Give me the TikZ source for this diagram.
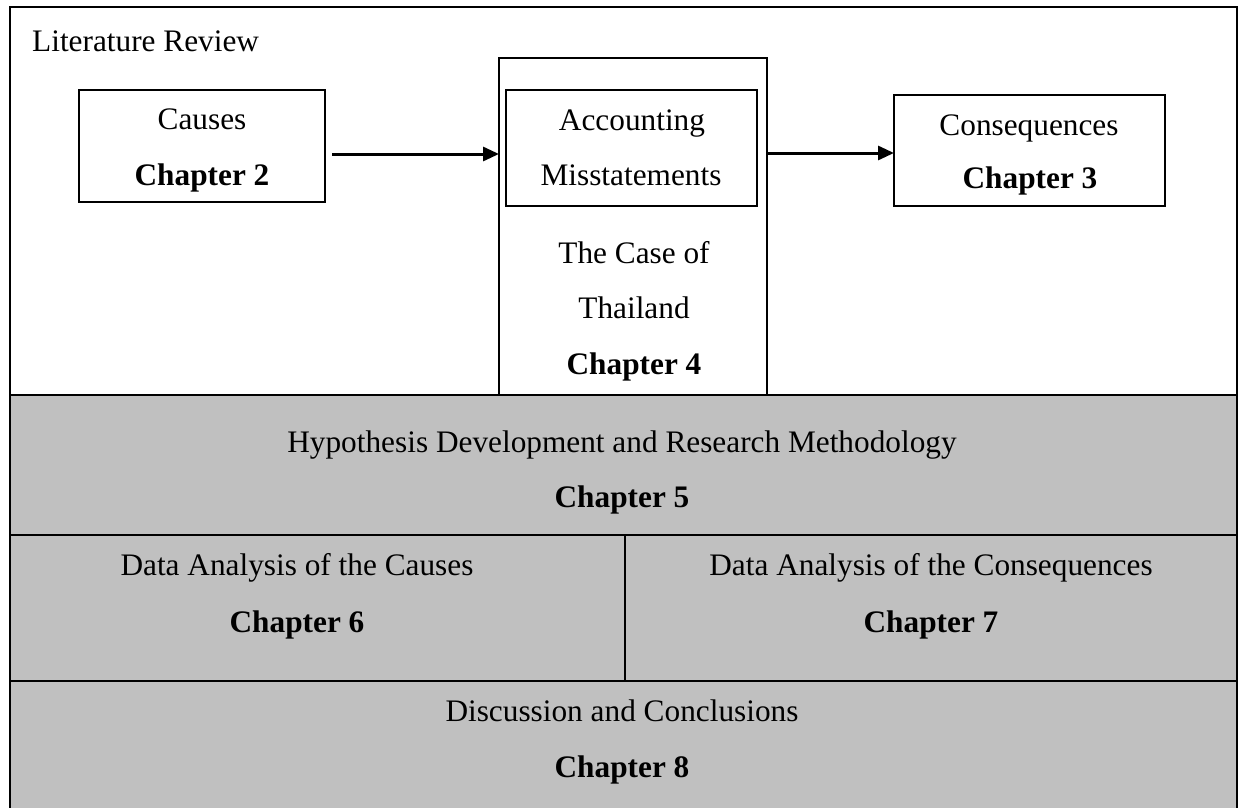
\documentclass[tikz,border=0pt]{standalone}
\usepackage{fontspec}
\setmainfont{Liberation Serif}
\usetikzlibrary{arrows.meta,calc}
\definecolor{bandgrey}{HTML}{C0C0C0}
\begin{document}
\begin{tikzpicture}[x=1pt,y=-1pt,
  every node/.style={font=\fontsize{31.3}{37}\selectfont},
  box/.style={draw=black,line width=2.2pt,fill=white,inner sep=0pt,outer sep=0pt},
  band/.style={draw=black,line width=2.2pt,fill=bandgrey,inner sep=0pt,outer sep=0pt},
  lbl/.style={anchor=base,inner sep=0pt},
  chap/.style={anchor=base,inner sep=0pt,font=\fontsize{31.3}{37}\selectfont\bfseries},
  flow/.style={line width=3pt,-{Triangle[length=16pt,width=14pt]}}]
\useasboundingbox (0,0) rectangle (1239,808);
\clip (0,0) rectangle (1239,808);

% literature review frame
\node[box,minimum width=1227,minimum height=388] (litframe) at (623.5,201) {};
\node[lbl,anchor=base west] (littitle) at (32,52) {Literature Review};

% grey bands of the empirical part
\node[band,minimum width=1227,minimum height=140] (hypband) at (623.5,465) {};
\node[band,minimum width=615,minimum height=146] (causeband) at (317.5,608) {};
\node[band,minimum width=612,minimum height=146] (consband) at (931,608) {};
\node[band,minimum width=1227,minimum height=135] (discband) at (623.5,748.5) {};

% literature boxes
\node[box,minimum width=246,minimum height=112] (causes) at (202,146) {};
\node[box,minimum width=268,minimum height=337] (centre) at (633,226.5) {};
\node[box,minimum width=251,minimum height=116] (misst) at (631.5,148) {};
\node[box,minimum width=271,minimum height=111] (conseq) at (1029.5,150.5) {};

% arrows
\coordinate (a1s) at ($(causes.east)+(7,8)$);
\draw[flow] (a1s) -- (a1s -| centre.west);
\coordinate (a2s) at ($(centre.east |- misst.east)+(0,5)$);
\draw[flow] (a2s) -- (a2s -| conseq.west);

% texts
\node[lbl] (tcauses) at (202,129) {Causes};
\node[chap] (tch2) at (202,185) {Chapter 2};
\node[lbl] (tacc) at (632,130) {Accounting};
\node[lbl] (tmis) at (631,185) {Misstatements};
\node[lbl] (tcons) at (1029,135) {Consequences};
\node[chap] (tch3) at (1030,188) {Chapter 3};
\node[lbl] (tcase) at (634,263) {The Case of};
\node[lbl] (tthai) at (634,318) {Thailand};
\node[chap] (tch4) at (634,374) {Chapter 4};

\node[lbl] (thyp) at (622,452) {Hypothesis Development and Research Methodology};
\node[chap] (tch5) at (622,507) {Chapter 5};
\node[lbl] (tdac) at (297,575) {Data Analysis of the Causes};
\node[chap] (tch6) at (297,632) {Chapter 6};
\node[lbl] (tdaq) at (931,575) {Data Analysis of the Consequences};
\node[chap] (tch7) at (931,632) {Chapter 7};
\node[lbl] (tdisc) at (622,721) {Discussion and Conclusions};
\node[chap] (tch8) at (622,777) {Chapter 8};
\end{tikzpicture}
\end{document}
